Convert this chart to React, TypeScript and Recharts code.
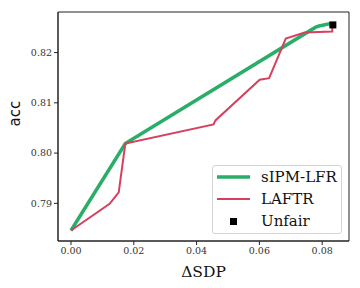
import {
  ComposedChart,
  Line,
  Scatter,
  XAxis,
  YAxis,
  Legend,
  ReferenceArea,
} from "recharts";

const sipmX = [0, 0.0173, 0.0778, 0.079, 0.0829];
const sipmY = [0.7846, 0.8019, 0.825, 0.8253, 0.8258];

const laftrX = [0, 0.0123, 0.0152, 0.0173, 0.0454, 0.046, 0.0601, 0.0631, 0.0684, 0.0744, 0.0832, 0.0832];
const laftrY = [0.7846, 0.7899, 0.7922, 0.8019, 0.8057, 0.8065, 0.8146, 0.8149, 0.8228, 0.824, 0.8242, 0.8256];

const unfairX = [0.0834];
const unfairY = [0.8255];

const xTicks = [0, 0.02, 0.04, 0.06, 0.08];
const yTicks = [0.79, 0.8, 0.81, 0.82];

const X_DOMAIN: [number, number] = [-0.00414, 0.08854];
const Y_DOMAIN: [number, number] = [0.78251, 0.82807];

const GREEN = "#2aad66";
const RED = "#d6405f";
const AXIS = "#222";
const SERIF = "'DejaVu Serif', serif";
const SANS = "'DejaVu Sans', sans-serif";

const zip = (xs: number[], ys: number[]) => xs.map((x, i) => ({ x, y: ys[i] }));

const sipm = zip(sipmX, sipmY);
const laftr = zip(laftrX, laftrY);
const unfair = zip(unfairX, unfairY);

const Square = (props: any) => {
  const { cx, cy } = props;
  return <rect x={cx - 3.5} y={cy - 3.5} width={7} height={7} fill="#000" />;
};

const LegendBox = () => (
  <div
    style={{
      width: 128,
      height: 67,
      border: "1px solid #d4d4d4",
      borderRadius: 3,
      background: "rgba(255,255,255,0.8)",
      fontFamily: SERIF,
      fontSize: 15,
      color: "#111",
      position: "relative",
    }}
  >
    {[
      { name: "sIPM-LFR", kind: "line", color: GREEN, w: 3.5 },
      { name: "LAFTR", kind: "line", color: RED, w: 2 },
      { name: "Unfair", kind: "square", color: "#000", w: 0 },
    ].map((e, i) => (
      <div key={e.name} style={{ position: "absolute", left: 0, top: 3 + i * 22, height: 20, width: 128 }}>
        <svg width={44} height={20} style={{ position: "absolute", left: 0, top: 0 }}>
          {e.kind === "line" ? (
            <line x1={4} x2={37} y1={8} y2={8} stroke={e.color} strokeWidth={e.w} />
          ) : (
            <rect x={17} y={5} width={7} height={7} fill="#000" />
          )}
        </svg>
        <span style={{ position: "absolute", left: 48, top: -2, lineHeight: "20px", whiteSpace: "nowrap" }}>
          {e.name}
        </span>
      </div>
    ))}
  </div>
);

export default function App() {
  return (
    <div style={{ position: "absolute", left: 0, top: 0, width: 360, height: 288, background: "#fff" }}>
      <ComposedChart
        width={360}
        height={288}
        margin={{ top: 12, right: 11, left: 0, bottom: 17 }}
      >
        <XAxis
          type="number"
          dataKey="x"
          domain={X_DOMAIN}
          ticks={xTicks}
          allowDataOverflow
          tickFormatter={(v: number) => v.toFixed(2)}
          height={30}
          tickSize={4}
          tickMargin={2}
          stroke={AXIS}
          tick={{ fill: "#333", fontFamily: SERIF, fontSize: 9.5 }}
          label={{
            value: "ΔSDP",
            position: "insideBottom",
            offset: -6,
            fill: "#111",
            fontFamily: SERIF,
            fontSize: 15.5,
          }}
        />
        <YAxis
          type="number"
          domain={Y_DOMAIN}
          ticks={yTicks}
          allowDataOverflow
          tickFormatter={(v: number) => v.toFixed(2)}
          width={58}
          tickSize={4}
          tickMargin={2}
          stroke={AXIS}
          tick={{ fill: "#333", fontFamily: SERIF, fontSize: 9.5 }}
          label={{
            value: "acc",
            angle: -90,
            position: "insideLeft",
            offset: 15,
            fill: "#111",
            fontFamily: SANS,
            fontSize: 15,
          }}
        />
        <ReferenceArea
          x1={X_DOMAIN[0]}
          x2={X_DOMAIN[1]}
          y1={Y_DOMAIN[0]}
          y2={Y_DOMAIN[1]}
          fill="none"
          stroke={AXIS}
          strokeWidth={1}
          fillOpacity={0}
        />
        <Line
          data={sipm}
          dataKey="y"
          name="sIPM-LFR"
          stroke={GREEN}
          strokeWidth={3.5}
          dot={false}
          isAnimationActive={false}
        />
        <Line
          data={laftr}
          dataKey="y"
          name="LAFTR"
          stroke={RED}
          strokeWidth={2}
          dot={false}
          isAnimationActive={false}
        />
        <Scatter
          data={unfair}
          dataKey="y"
          name="Unfair"
          shape={Square}
          isAnimationActive={false}
        />
        <Legend
          layout="vertical"
          align="center"
          verticalAlign="middle"
          content={() => <LegendBox />}
          wrapperStyle={{ left: 212, top: 165, width: 130, height: 69 }}
        />
      </ComposedChart>
    </div>
  );
}
